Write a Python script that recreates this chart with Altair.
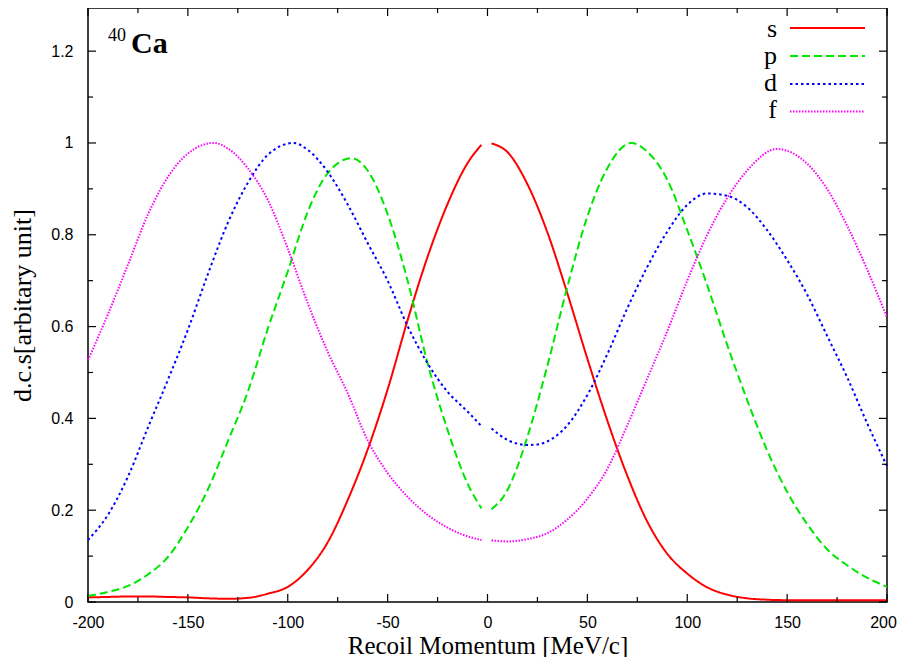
import altair as alt
import pandas as pd

# ---------------- data ----------------
SERIES = ["s", "p", "d", "f"]
COLORS = ["#ff0000", "#00e600", "#0000ff", "#ff00ff"]
DASHES = [[1, 0], [8, 4], [2.5, 3], [1.5, 1.5]]

X_S = [-200, -190, -180, -170, -160, -150, -140, -130, -120, -110, -100, -90, -80, -70, -60, -50, -40, -30, -20, -10, -3,
       2, 10, 20, 30, 40, 50, 60, 70, 80, 90, 100, 110, 120, 130, 140, 150, 160, 170, 180, 190, 200]
Y_S = [0.010, 0.011, 0.012, 0.012, 0.011, 0.010, 0.008, 0.007, 0.009, 0.018, 0.033, 0.070, 0.130, 0.222, 0.332, 0.463, 0.614, 0.752, 0.867, 0.956, 0.996,
       0.999, 0.980, 0.910, 0.805, 0.672, 0.530, 0.395, 0.275, 0.175, 0.105, 0.062, 0.032, 0.016, 0.008, 0.005, 0.004, 0.004, 0.004, 0.004, 0.004, 0.004]

X_P = [-200, -190, -180, -170, -160, -150, -140, -130, -120, -110, -100, -90, -80, -68, -60, -50, -40, -30, -20, -10, -3,
       2, 10, 15, 20, 30, 40, 50, 60, 72, 80, 90, 100, 110, 120, 130, 140, 150, 160, 170, 180, 190, 200]
Y_P = [0.013, 0.022, 0.035, 0.060, 0.098, 0.163, 0.245, 0.350, 0.458, 0.595, 0.720, 0.850, 0.934, 0.967, 0.940, 0.845, 0.700, 0.520, 0.375, 0.258, 0.204,
       0.202, 0.244, 0.295, 0.360, 0.515, 0.687, 0.840, 0.945, 1.000, 0.981, 0.920, 0.810, 0.690, 0.560, 0.440, 0.330, 0.240, 0.170, 0.115, 0.080, 0.053, 0.033]

X_D = [-200, -190, -180, -170, -160, -150, -140, -130, -120, -110, -97, -90, -80, -70, -60, -50, -40, -30, -20, -10, -3,
       2, 10, 20, 25, 30, 40, 50, 60, 70, 80, 90, 100, 110, 120, 130, 140, 150, 160, 170, 180, 190, 200]
Y_D = [0.135, 0.190, 0.273, 0.380, 0.484, 0.593, 0.714, 0.826, 0.913, 0.974, 1.000, 0.985, 0.937, 0.866, 0.782, 0.700, 0.601, 0.520, 0.458, 0.415, 0.383,
       0.378, 0.353, 0.342, 0.343, 0.350, 0.385, 0.451, 0.540, 0.640, 0.730, 0.807, 0.865, 0.890, 0.885, 0.860, 0.810, 0.745, 0.670, 0.580, 0.490, 0.390, 0.296]

X_F = [-200, -190, -180, -170, -160, -150, -137, -130, -120, -110, -100, -90, -80, -70, -60, -50, -40, -30, -20, -10, -3,
       2, 10, 20, 30, 40, 50, 60, 70, 80, 90, 100, 110, 120, 130, 145, 150, 160, 170, 180, 190, 200]
Y_F = [0.527, 0.627, 0.735, 0.844, 0.926, 0.977, 1.000, 0.988, 0.945, 0.876, 0.770, 0.651, 0.545, 0.455, 0.352, 0.281, 0.229, 0.190, 0.162, 0.143, 0.135,
       0.134, 0.132, 0.137, 0.150, 0.180, 0.225, 0.290, 0.385, 0.487, 0.590, 0.700, 0.800, 0.880, 0.940, 0.987, 0.983, 0.955, 0.900, 0.820, 0.725, 0.620]

X_MAJOR = [-200, -150, -100, -50, 0, 50, 100, 150, 200]
X_MINOR = [-175, -125, -75, -25, 25, 75, 125, 175]
Y_MAJOR = [0, 0.2, 0.4, 0.6, 0.8, 1.0, 1.2]
Y_MINOR = [0.1, 0.3, 0.5, 0.7, 0.9, 1.1]

X_TITLE = "Recoil Momentum [MeV/c]"
Y_TITLE = "d.c.s[arbitary unit]"

# ---------------- build tables ----------------
rows = []
for name, xs, ys in [("s", X_S, Y_S), ("p", X_P, Y_P), ("d", X_D, Y_D), ("f", X_F, Y_F)]:
    for xv, yv in zip(xs, ys):
        rows.append({"x": xv, "y": yv, "series": name, "seg": name + ("L" if xv < 0 else "R")})
df = pd.DataFrame(rows)

W, H = 799, 594
YMAX = 1.294
MAJ, MIN = 8, 5

xscale = alt.Scale(domain=[-200, 200], nice=False, zero=False)
yscale = alt.Scale(domain=[0, YMAX], nice=False, zero=False)

SANS = "Liberation Sans"
SERIF = "Liberation Serif"

xaxis = alt.Axis(values=X_MAJOR, ticks=False, domain=False, grid=False,
                 labelFont=SANS, labelFontSize=16, labelColor="black", labelPadding=12,
                 labelExpr="'' + datum.value", labelFlush=False,
                 labelOffset={"condition": {"test": "datum.value == 200", "value": -4}, "value": 0},
                 title=X_TITLE, titleFont=SERIF, titleFontSize=25, titleFontWeight="normal",
                 titleColor="black", titleX=W / 2, titleY=51, titleBaseline="alphabetic",
                 titleAlign="center")
yaxis = alt.Axis(values=Y_MAJOR, ticks=False, domain=False, grid=False,
                 labelFont=SANS, labelFontSize=16, labelColor="black", labelPadding=15,
                 labelExpr="'' + datum.value", labelFlush=False,
                 title=Y_TITLE, titleFont=SERIF, titleFontSize=26, titleFontWeight="normal",
                 titleColor="black", titleX=-58, titleY=H / 2, titleAngle=270,
                 titleBaseline="alphabetic", titleAlign="center")

lines = alt.Chart(df).mark_line(strokeWidth=2, interpolate="monotone").encode(
    x=alt.X("x:Q", scale=xscale, axis=xaxis),
    y=alt.Y("y:Q", scale=yscale, axis=yaxis),
    color=alt.Color("series:N", scale=alt.Scale(domain=SERIES, range=COLORS), legend=None),
    strokeDash=alt.StrokeDash("series:N", scale=alt.Scale(domain=SERIES, range=DASHES), legend=None),
    detail="seg:N",
    order="x:Q",
)

def xticks(vals, length):
    d = pd.DataFrame({"x": vals})
    bot = alt.Chart(d).mark_rule(color="black", strokeWidth=1.2).encode(
        x=alt.X("x:Q", scale=xscale, axis=xaxis), y=alt.value(H), y2=alt.value(H - length))
    top = alt.Chart(d).mark_rule(color="black", strokeWidth=1.2).encode(
        x=alt.X("x:Q", scale=xscale, axis=xaxis), y=alt.value(0), y2=alt.value(length))
    return [bot, top]

def yticks(vals, length):
    d = pd.DataFrame({"y": vals})
    lft = alt.Chart(d).mark_rule(color="black", strokeWidth=1.2).encode(
        y=alt.Y("y:Q", scale=yscale, axis=yaxis), x=alt.value(0), x2=alt.value(length))
    rgt = alt.Chart(d).mark_rule(color="black", strokeWidth=1.2).encode(
        y=alt.Y("y:Q", scale=yscale, axis=yaxis), x=alt.value(W), x2=alt.value(W - length))
    return [lft, rgt]

tick_layers = xticks(X_MAJOR, MAJ) + xticks(X_MINOR, MIN) + yticks(Y_MAJOR, MAJ) + yticks(Y_MINOR, MIN)

# legend (drawn by hand, gnuplot style)
one = pd.DataFrame({"k": [0]})
LEG_LINE_Y = [20, 48, 76, 103.5]
LEG_TEXT_Y = [29, 56, 83, 110]
legend_layers = []
for i, name in enumerate(SERIES):
    legend_layers.append(
        alt.Chart(one).mark_rule(color=COLORS[i], strokeWidth=2, strokeDash=DASHES[i]).encode(
            x=alt.value(702), x2=alt.value(777), y=alt.value(LEG_LINE_Y[i])))
    legend_layers.append(
        alt.Chart(one).mark_text(text=name, font=SERIF, fontSize=26, align="right",
                                 baseline="alphabetic", color="black").encode(
            x=alt.value(689), y=alt.value(LEG_TEXT_Y[i])))

label_layers = [
    alt.Chart(one).mark_text(text="40", font=SERIF, fontSize=18, align="left",
                             baseline="alphabetic", color="black").encode(
        x=alt.value(20), y=alt.value(33)),
    alt.Chart(one).mark_text(text="Ca", font=SERIF, fontSize=30, fontWeight="bold", align="left",
                             baseline="alphabetic", color="black").encode(
        x=alt.value(43), y=alt.value(45)),
]

chart = alt.layer(lines, *tick_layers, *legend_layers, *label_layers).properties(
    width=W, height=H,
    autosize=alt.AutoSizeParams(type="none"),
    padding={"left": 80, "top": 0, "right": 12, "bottom": 55},
    background="white",
).configure_view(stroke="black", strokeWidth=1.5)

chart.save("out.html", embed_options={"renderer": "svg", "actions": False})
